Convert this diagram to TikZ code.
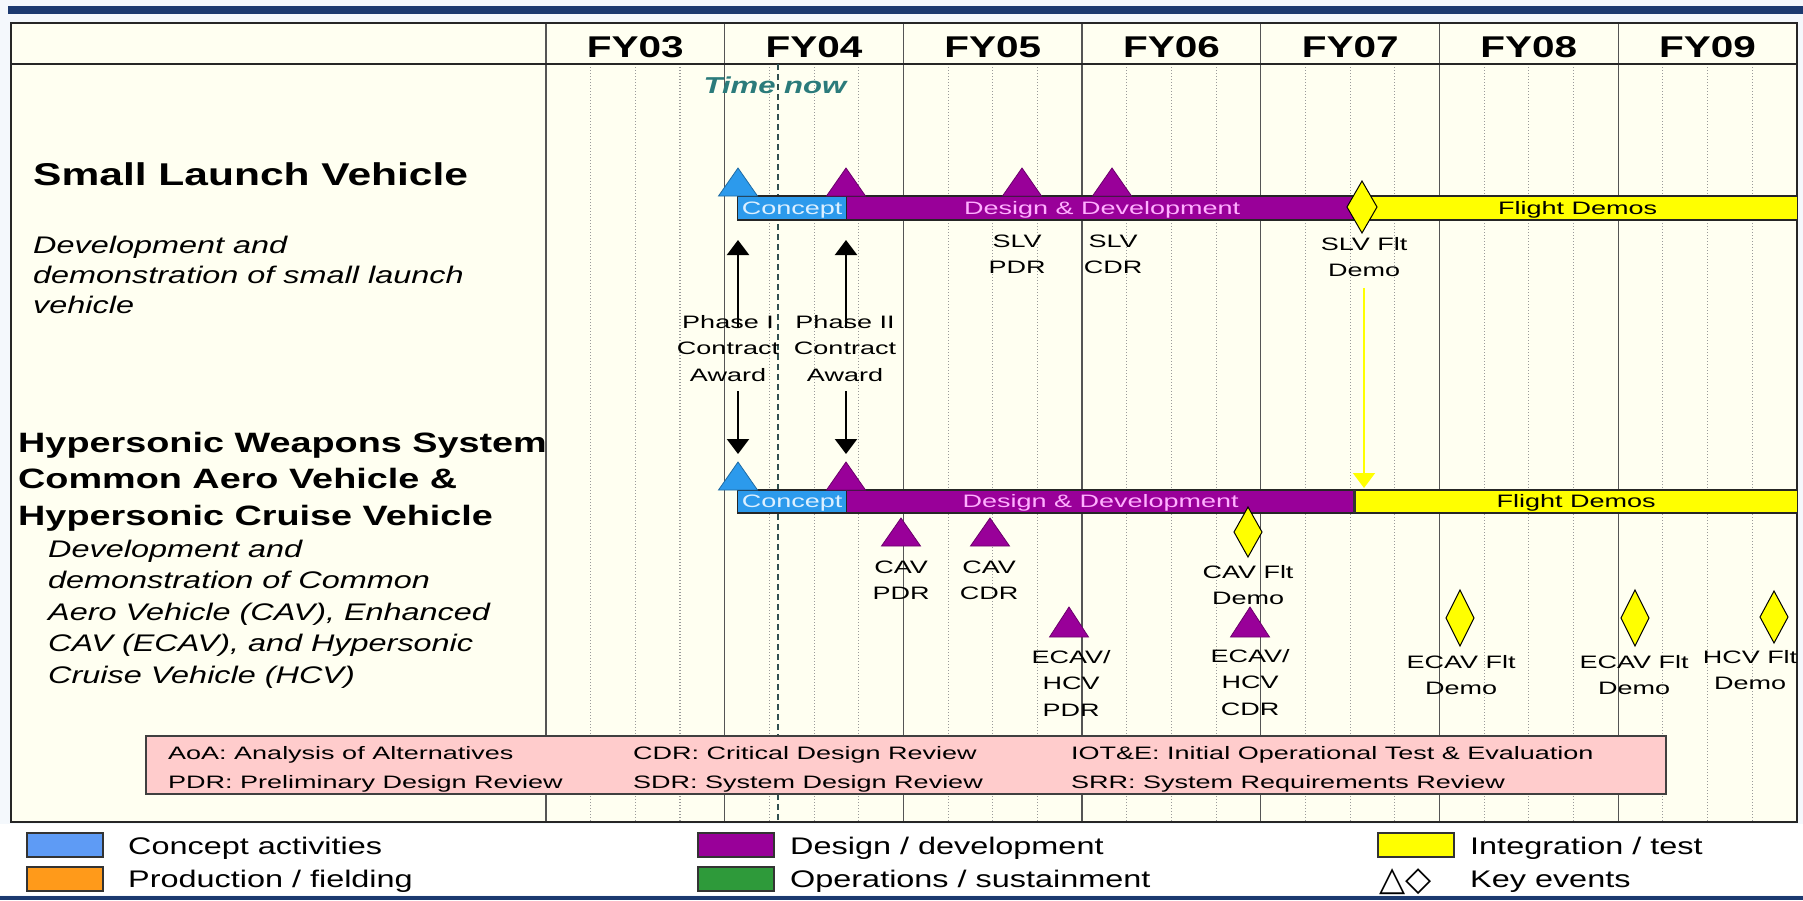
\documentclass[tikz,border=0pt]{standalone}
\usepackage{fontspec}
\setmainfont{Liberation Sans}[FakeStretch=1.35]
\newfontfamily\pixf{Liberation Sans}[FakeStretch=1.5]
\newfontfamily\symf{DejaVu Sans}
\usetikzlibrary{arrows.meta}

\definecolor{navy}{HTML}{1C3A70}
\definecolor{pagebg}{HTML}{F4F8FC}
\definecolor{ivory}{HTML}{FFFFF1}
\definecolor{concept}{HTML}{2C9AEC}
\definecolor{concepttext}{HTML}{DDF0FF}
\definecolor{design}{HTML}{990099}
\definecolor{designtext}{HTML}{FFB0FF}
\definecolor{testy}{HTML}{FFFF00}
\definecolor{pinkbox}{HTML}{FFCCCC}
\definecolor{timenow}{HTML}{2B7B7B}
\definecolor{nowline}{HTML}{2F5050}
\definecolor{legblue}{HTML}{5E9BF5}
\definecolor{legorange}{HTML}{FF9A1A}
\definecolor{leggreen}{HTML}{2E9A3A}
\definecolor{gridgray}{HTML}{9A9A9A}
\definecolor{yeargray}{HTML}{555555}

% key event triangle: x, base y, height, colour
\newcommand{\ktri}[4]{%
  \filldraw[fill=#4, draw=#4!70!black, line width=0.8pt]
    (#1-19.5,#2) -- (#1,#2-#3) -- (#1+19.5,#2) -- cycle;}
% key event diamond: x, centre y, half width, half height
\newcommand{\kdia}[4]{%
  \filldraw[fill=testy, draw=black, line width=1pt]
    (#1,#2-#4) -- (#1+#3,#2) -- (#1,#2+#4) -- (#1-#3,#2) -- cycle;}
% stacked milestone caption: name, x, first baseline, lines
\newcommand{\stacklbl}[4]{%
  \foreach \t [count=\k] in {#4}
    \node[lbl] (#1-\k) at (#2,{#3+26.5*(\k-1)}) {\t};}

\begin{document}
\begin{tikzpicture}[x=1pt,y=-1pt,
  yearlbl/.style={font=\bfseries\fontsize{30}{30}\selectfont, anchor=base, inner sep=0pt},
  lbl/.style={font=\pixf\fontsize{18}{18}\selectfont, anchor=base, inner sep=0pt},
  bigtitle/.style={font=\bfseries\fontsize{31.5}{31.5}\selectfont, anchor=base west, inner sep=0pt},
  subtitle/.style={font=\bfseries\fontsize{28}{28}\selectfont, anchor=base west, inner sep=0pt},
  desc/.style={font=\itshape\fontsize{24}{24}\selectfont, anchor=base west, inner sep=0pt},
  seg/.style={draw=black!85, line width=1.2pt, anchor=west, inner sep=0pt,
    font=\pixf\fontsize{18}{18}\selectfont, text height=12.9pt, text depth=0pt},
  abbr/.style={font=\pixf\fontsize{18}{18}\selectfont, anchor=base west, inner sep=0pt},
  legtext/.style={font=\fontsize{24}{24}\selectfont, anchor=base west, inner sep=0pt},
  swatch/.style={draw=black!80, line width=1.2pt, minimum width=76pt, minimum height=24pt, inner sep=0pt},
  yearline/.style={draw=yeargray, line width=1.3pt},
  qline/.style={draw=gridgray, line width=1.1pt, dash pattern=on 1.2pt off 1.8pt},
  blkarrow/.style={draw=black, line width=2.2pt, -{Triangle[width=22pt,length=15pt]}},
  ylwarrow/.style={draw=testy, line width=1.8pt, -{Triangle[width=22pt,length=15pt]}},
]
\useasboundingbox (0,0) rectangle (1803,900);

% page, banner and footer rule
\fill[pagebg] (0,0) rectangle (1803,900);
\fill[navy] (8,6) rectangle (1803,14);
\fill[navy] (0,896) rectangle (1803,900);

% schedule table
\fill[ivory] (11,23) rectangle (1797,822);
\foreach \i in {0,...,6}
  \foreach \q in {1,2,3}
    \draw[qline] ({546+178.7*\i+44.675*\q},64) -- ({546+178.7*\i+44.675*\q},822);
\foreach \i in {1,...,6}
  \draw[yearline] ({546+178.7*\i},23) -- ({546+178.7*\i},822);
\draw[yearline] (546,23) -- (546,822);
\draw[draw=black!85, line width=1.6pt] (11,64) -- (1797,64);
\draw[draw=black!85, line width=2pt] (11,23) rectangle (1797,822);

\foreach \i/\yr in {0/FY03,1/FY04,2/FY05,3/FY06,4/FY07,5/FY08,6/FY09}
  \node[yearlbl] (yr\i) at ({546+178.7*(\i+0.5)},57) {\yr};

% current date marker
\draw[draw=nowline, line width=2.5pt, dash pattern=on 6pt off 4pt] (778,64) -- (778,822);
\node[font=\bfseries\itshape\fontsize{23}{23}\selectfont, text=timenow, anchor=base, inner sep=0pt]
  (tnow) at (775,93) {Time now};

% program titles
\node[bigtitle] (slvT) at (33,185) {Small Launch Vehicle};
\node[desc] (slvD1) at (33,253) {Development and};
\node[desc] (slvD2) at (33,283) {demonstration of small launch};
\node[desc] (slvD3) at (33,313) {vehicle};

\node[subtitle] (hwsT1) at (18,452) {Hypersonic Weapons System};
\node[subtitle] (hwsT2) at (18,488) {Common Aero Vehicle \&};
\node[subtitle] (hwsT3) at (18,525) {Hypersonic Cruise Vehicle};
\node[desc] (hwsD1) at (48,557) {Development and};
\node[desc] (hwsD2) at (48,588.5) {demonstration of Common};
\node[desc] (hwsD3) at (48,620) {Aero Vehicle (CAV), Enhanced};
\node[desc] (hwsD4) at (48,651.5) {CAV (ECAV), and Hypersonic};
\node[desc] (hwsD5) at (48,683) {Cruise Vehicle (HCV)};

% small launch vehicle phases
\node[seg, fill=concept, text=concepttext, minimum width=109pt, minimum height=24pt] (slvC) at (737,208) {Concept};
\node[seg, fill=design, text=designtext, minimum width=511pt, minimum height=24pt] (slvD) at (846,208) {Design \& Development};
\node[seg, fill=testy, text=black, minimum width=440pt, minimum height=24pt] (slvF) at (1357,208) {Flight Demos};

% hypersonic vehicle phases
\node[seg, fill=concept, text=concepttext, minimum width=109pt, minimum height=23pt] (hwsC) at (737,501.5) {Concept};
\node[seg, fill=design, text=designtext, minimum width=508pt, minimum height=23pt] (hwsD) at (846,501.5) {Design \& Development};
\node[seg, fill=testy, text=black, minimum width=443pt, minimum height=23pt] (hwsF) at (1354,501.5) {Flight Demos};
\draw[draw=black!80, line width=3pt] (1354,490) -- (1354,513);

% key events, small launch vehicle
\ktri{738}{196}{28}{concept}
\ktri{846}{196}{28}{design}
\ktri{1022}{196}{28}{design}
\ktri{1112}{196}{28}{design}
\kdia{1362}{207}{15}{26}

% key events, hypersonic vehicles
\ktri{738}{490}{28}{concept}
\ktri{846}{490}{28}{design}
\ktri{901}{546}{28}{design}
\ktri{990}{546}{28}{design}
\ktri{1069}{637}{30}{design}
\ktri{1250}{637}{30}{design}
\kdia{1248}{532}{14}{25}
\kdia{1460}{618}{14}{28}
\kdia{1635}{618}{14}{28}
\kdia{1774}{617}{14}{26}

% milestone captions
\stacklbl{slvpdr}{1017}{247}{SLV,PDR}
\stacklbl{slvcdr}{1113}{247}{SLV,CDR}
\stacklbl{slvflt}{1364}{250}{SLV Flt,Demo}
\stacklbl{ph1}{728}{328}{Phase I,Contract,Award}
\stacklbl{ph2}{845}{328}{Phase II,Contract,Award}
\stacklbl{cavpdr}{901}{573}{CAV,PDR}
\stacklbl{cavcdr}{989}{573}{CAV,CDR}
\stacklbl{cavflt}{1248}{578}{CAV Flt,Demo}
\stacklbl{hcvpdr}{1071}{663}{ECAV/,HCV,PDR}
\stacklbl{hcvcdr}{1250}{662}{ECAV/,HCV,CDR}
\stacklbl{ecav1}{1461}{668}{ECAV Flt,Demo}
\stacklbl{ecav2}{1634}{668}{ECAV Flt,Demo}
\stacklbl{hcvflt}{1750}{663}{HCV Flt,Demo}

% contract award arrows
\coordinate (ph1up) at (738,240);
\coordinate (ph2up) at (846,240);
\coordinate (ph1dn) at (738,454);
\coordinate (ph2dn) at (846,454);
\coordinate (slvtohws) at (1364,488);
\draw[blkarrow, shorten <=-13pt] (ph1-1.north -| ph1up) -- (ph1up);
\draw[blkarrow, shorten <=-13pt] (ph2-1.north -| ph2up) -- (ph2up);
\draw[blkarrow, shorten <=10pt] (ph1-3.south -| ph1dn) -- (ph1dn);
\draw[blkarrow, shorten <=10pt] (ph2-3.south -| ph2dn) -- (ph2dn);
\draw[ylwarrow, shorten <=11pt] (slvflt-2.south -| slvtohws) -- (slvtohws);

% abbreviations
\node[draw=black!75, line width=1.5pt, fill=pinkbox, minimum width=1520pt, minimum height=58pt, inner sep=0pt]
  (abbrbox) at (906,765) {};
\node[abbr] (aoa) at (168,759) {AoA: Analysis of Alternatives};
\node[abbr] (pdr) at (168,788) {PDR: Preliminary Design Review};
\node[abbr] (cdr) at (633,759) {CDR: Critical Design Review};
\node[abbr] (sdr) at (633,788) {SDR: System Design Review};
\node[abbr] (iote) at (1071,759) {IOT\&E: Initial Operational Test \& Evaluation};
\node[abbr] (srr) at (1071,788) {SRR: System Requirements Review};

% legend
\fill[white] (0,824) rectangle (1803,895);
\node[swatch, fill=legblue] (swC) at (65,845) {};
\node[swatch, fill=legorange] (swP) at (65,879) {};
\node[swatch, fill=design] (swD) at (736,845) {};
\node[swatch, fill=leggreen] (swO) at (736,879) {};
\node[swatch, fill=testy] (swI) at (1416,845) {};
\node[legtext] (lgC) at (128,854) {Concept activities};
\node[legtext] (lgP) at (128,887) {Production / fielding};
\node[legtext] (lgD) at (790,854) {Design / development};
\node[legtext] (lgO) at (790,887) {Operations / sustainment};
\node[legtext] (lgI) at (1470,854) {Integration / test};
\node[legtext, font=\symf\fontsize{34}{34}\selectfont] (lgK) at (1379,890) {△◇};
\node[legtext] (lgE) at (1470,887) {Key events};
\end{tikzpicture}
\end{document}
